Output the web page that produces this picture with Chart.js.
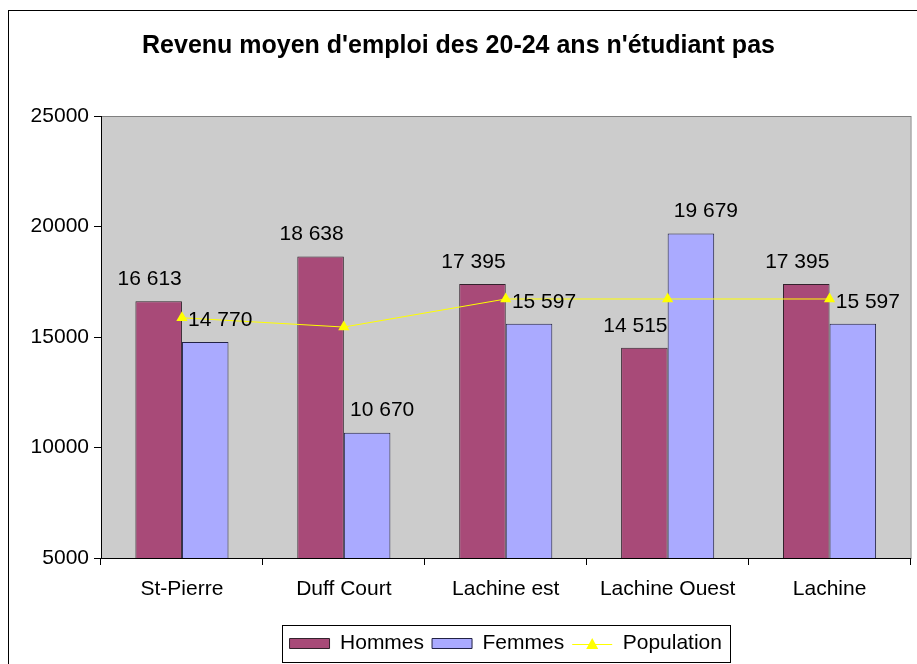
<!DOCTYPE html>
<html>
<head>
<meta charset="utf-8">
<script src="https://cdn.jsdelivr.net/npm/chart.js@4.4.0/dist/chart.umd.min.js"></script>
<style>
  body { margin: 0; background: #fff; }
  canvas { display: block; }
</style>
</head>
<body>
<canvas id="myChart" width="917" height="664"></canvas>
<script>
var quartiers = ['St-Pierre', 'Duff Court', 'Lachine est', 'Lachine Ouest', 'Lachine'];
var hommes = [16613, 18638, 17395, 14515, 17395];
var femmes = [14770, 10670, 15597, 19679, 15597];
var population = [15870, 15450, 16720, 16720, 16720];
var yTicks = [5000, 10000, 15000, 20000, 25000];

var FONT = 'Liberation Sans, Arial, sans-serif';

function sepMilliers(v) {
    return String(v).replace(/\B(?=(\d{3})+(?!\d))/g, ' ');
}

// cadre exterieur + fond gris de la zone du graphique
var fondPlugin = {
    id: 'fond',
    beforeDraw: function(chart) {
        var ctx = chart.ctx, a = chart.chartArea;
        ctx.save();
        ctx.fillStyle = '#fff';
        ctx.fillRect(0, 0, chart.width, chart.height);
        ctx.strokeStyle = '#000';
        ctx.lineWidth = 1;
        ctx.strokeRect(8.5, 10.5, 2000, 2000);
        ctx.fillStyle = '#CCCCCC';
        ctx.fillRect(a.left, a.top, a.right - a.left, a.bottom - a.top);
        ctx.strokeStyle = '#808080';
        ctx.strokeRect(a.left + 0.5, a.top + 0.5, a.right - a.left, a.bottom - a.top);
        ctx.restore();
    }
};

// etiquettes de valeurs au-dessus des barres
var etiquettesPlugin = {
    id: 'etiquettes',
    afterDatasetsDraw: function(chart) {
        var ctx = chart.ctx;
        ctx.save();
        ctx.font = '21px ' + FONT;
        ctx.fillStyle = '#000';
        ctx.textAlign = 'center';
        ctx.textBaseline = 'middle';
        [0, 1].forEach(function(di) {
            var meta = chart.getDatasetMeta(di);
            var dx = di === 0 ? -9 : 15;
            meta.data.forEach(function(bar, i) {
                var v = chart.data.datasets[di].data[i];
                ctx.fillText(sepMilliers(v), bar.x + dx, bar.y - 22);
            });
        });
        ctx.restore();
    }
};

// cadre de legende + symbole de la ligne
var legendePlugin = {
    id: 'legendeCadre',
    afterDraw: function(chart) {
        var lg = chart.legend, boxes = lg.legendHitBoxes;
        if (!boxes || !boxes.length) return;
        var ctx = chart.ctx;
        var left = boxes[0].left - 8;
        var last = boxes[boxes.length - 1];
        var right = last.left + last.width + 8;
        ctx.save();
        ctx.strokeStyle = '#000';
        ctx.lineWidth = 1;
        ctx.strokeRect(Math.round(left) + 0.5, Math.round(lg.top) + 0.5, Math.round(right - left), Math.round(lg.height) - 2);
        var b = boxes[2];
        var cy = Math.round(b.top + b.height / 2);
        ctx.strokeStyle = '#FFFF00';
        ctx.beginPath();
        ctx.moveTo(b.left, cy + 0.5);
        ctx.lineTo(b.left + 40, cy + 0.5);
        ctx.stroke();
        ctx.fillStyle = '#FFFF00';
        ctx.beginPath();
        ctx.moveTo(b.left + 20, cy - 6);
        ctx.lineTo(b.left + 26, cy + 5);
        ctx.lineTo(b.left + 14, cy + 5);
        ctx.closePath();
        ctx.fill();
        ctx.restore();
    }
};

var context = document.getElementById('myChart');
var graph = new Chart(context, {
    type: 'bar',
    data: {
        labels: quartiers,
        datasets: [
            {
                label: 'Hommes',
                data: hommes,
                backgroundColor: '#A84A78',
                borderColor: '#33222C',
                borderWidth: 1,
                order: 2
            },
            {
                label: 'Femmes',
                data: femmes,
                backgroundColor: '#AAAAFF',
                borderColor: '#222244',
                borderWidth: 1,
                order: 2
            },
            {
                type: 'line',
                label: 'Population',
                data: population,
                borderColor: '#FFFF00',
                backgroundColor: '#FFFF00',
                borderWidth: 1,
                pointStyle: 'triangle',
                pointRadius: 6.5,
                pointBorderWidth: 0,
                tension: 0,
                order: 1
            }
        ]
    },
    options: {
        responsive: false,
        animation: false,
        devicePixelRatio: 1,
        layout: { padding: { left: 0, right: 0, top: 0, bottom: 0 } },
        datasets: {
            bar: { categoryPercentage: 0.575, barPercentage: 1 }
        },
        scales: {
            x: {
                offset: true,
                afterFit: function(scale) { scale.height = 67; },
                grid: { offset: true, drawOnChartArea: false, drawTicks: true, tickLength: 7, color: '#000' },
                border: { color: '#000' },
                ticks: { font: { family: FONT, size: 21 }, color: '#000', padding: 12 }
            },
            y: {
                min: 5000,
                max: 25000,
                afterBuildTicks: function(scale) {
                    scale.ticks = yTicks.map(function(v) { return { value: v }; });
                },
                afterFit: function(scale) { scale.width = 101; },
                grid: { drawOnChartArea: false, drawTicks: true, tickLength: 7, color: '#000' },
                border: { color: '#000' },
                ticks: {
                    font: { family: FONT, size: 21 },
                    color: '#000',
                    padding: 5,
                    callback: function(v) { return String(v); }
                }
            }
        },
        plugins: {
            title: {
                display: true,
                text: "Revenu moyen d'emploi des 20-24 ans n'étudiant pas",
                font: { family: FONT, size: 25, weight: 'bold' },
                color: '#000',
                padding: { top: 31, bottom: 55 }
            },
            legend: {
                position: 'bottom',
                fullSize: false,
                labels: {
                    font: { family: FONT, size: 21, lineHeight: 1 },
                    color: '#000',
                    boxWidth: 40,
                    boxHeight: 10,
                    padding: 8,
                    sort: function(a, b) { return a.datasetIndex - b.datasetIndex; },
                    generateLabels: function(chart) {
                        var items = Chart.defaults.plugins.legend.labels.generateLabels(chart);
                        items.forEach(function(it) {
                            if (it.datasetIndex === 2) {
                                it.fillStyle = 'rgba(0,0,0,0)';
                                it.strokeStyle = 'rgba(0,0,0,0)';
                                it.lineWidth = 0;
                            }
                        });
                        return items;
                    }
                }
            },
            tooltip: { enabled: false }
        }
    },
    plugins: [fondPlugin, etiquettesPlugin, legendePlugin]
});
</script>
</body>
</html>
